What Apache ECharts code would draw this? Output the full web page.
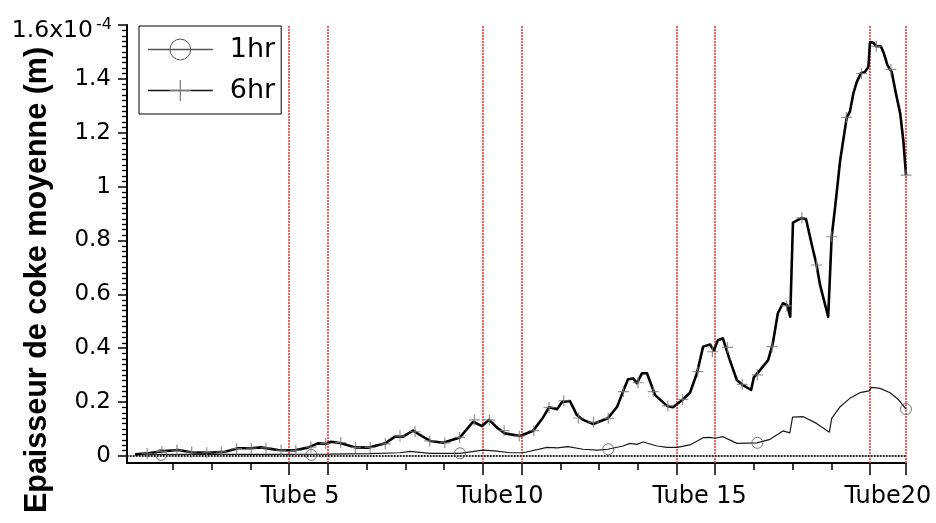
<!DOCTYPE html>
<html>
<head>
<meta charset="utf-8">
<script src="https://cdn.jsdelivr.net/npm/echarts@6/dist/echarts.min.js"></script>
<style>
  html, body { margin: 0; padding: 0; background: #fff; }
  #chart { width: 936px; height: 523px; }
</style>
</head>
<body>
<div id="chart"></div>
<script>
// Average coke thickness along the coil, in units of 1e-4 m.
// x runs along the tubes (one unit per minor tick).

// 1 hour run: thin curve
const hr1Curve = [
  [0.02,0.005],[1.70,0.006],[3.25,0.006],[5.05,0.007],[6.08,0.009],[6.86,0.012],[7.12,0.017],
  [7.64,0.010],[8.41,0.010],[9.00,0.022],[9.31,0.019],[9.70,0.012],[10.04,0.012],[10.66,0.032],
  [10.92,0.030],[11.20,0.035],[11.59,0.025],[11.95,0.022],[12.23,0.025],[12.62,0.037],[12.80,0.047],
  [12.98,0.043],[13.14,0.052],[13.50,0.037],[13.76,0.032],[14.02,0.032],[14.35,0.041],[14.69,0.068],
  [14.87,0.069],[15.00,0.066],[15.20,0.072],[15.56,0.047],[16.08,0.049],[16.42,0.062],[16.75,0.093],
  [16.93,0.086],[17.00,0.144],[17.28,0.146],[17.62,0.121],[17.95,0.088],[18.01,0.140],[18.23,0.183],
  [18.48,0.214],[18.74,0.235],[18.98,0.242],[19.04,0.255],[19.26,0.251],[19.52,0.235],[19.73,0.210],
  [19.93,0.174]
];
const hr1Marks = [[0.69,0.004],[4.57,0.004],[8.41,0.010],[12.24,0.025],[16.09,0.049],[19.93,0.174]];

// 6 hour run: thick curve
const hr6Curve = [
  [0.02,0.006],[0.35,0.010],[0.69,0.017],[1.13,0.022],[1.47,0.014],[1.90,0.012],[2.34,0.016],
  [2.68,0.029],[3.01,0.029],[3.27,0.032],[3.71,0.022],[4.15,0.021],[4.48,0.031],[4.74,0.047],
  [4.95,0.045],[5.08,0.053],[5.34,0.047],[5.70,0.032],[6.04,0.031],[6.48,0.047],[6.73,0.072],
  [6.94,0.072],[7.20,0.094],[7.38,0.078],[7.64,0.056],[7.97,0.049],[8.41,0.069],[8.75,0.127],
  [8.98,0.111],[9.16,0.134],[9.37,0.105],[9.57,0.084],[9.96,0.074],[10.30,0.094],[10.56,0.144],
  [10.71,0.181],[10.92,0.174],[11.05,0.201],[11.25,0.204],[11.43,0.152],[11.59,0.134],[11.85,0.119],
  [12.23,0.140],[12.47,0.183],[12.62,0.239],[12.75,0.285],[12.88,0.288],[12.98,0.270],[13.11,0.307],
  [13.24,0.307],[13.45,0.226],[13.76,0.186],[13.91,0.181],[14.17,0.210],[14.35,0.235],[14.53,0.307],
  [14.69,0.406],[14.87,0.414],[14.97,0.391],[15.07,0.430],[15.20,0.437],[15.38,0.356],[15.56,0.282],
  [15.72,0.263],[15.93,0.245],[16.00,0.292],[16.16,0.319],[16.37,0.356],[16.49,0.418],[16.62,0.530],
  [16.75,0.567],[16.86,0.560],[16.94,0.517],[17.01,0.866],[17.24,0.884],[17.35,0.878],[17.49,0.789],
  [17.62,0.709],[17.71,0.635],[17.92,0.517],[18.01,0.814],[18.10,0.925],[18.23,1.098],[18.31,1.173],
  [18.40,1.257],[18.48,1.278],[18.57,1.346],[18.66,1.389],[18.76,1.420],[18.87,1.426],[18.96,1.445],
  [19.00,1.537],[19.09,1.534],[19.16,1.521],[19.28,1.521],[19.36,1.494],[19.45,1.451],[19.56,1.426],
  [19.67,1.346],[19.78,1.272],[19.86,1.173],[19.93,1.043]
];
const hr6MarkX = [
  0.33,0.71,1.10,1.48,1.87,2.25,2.64,3.02,3.40,3.79,4.17,4.56,4.94,5.33,5.71,6.09,6.48,6.86,
  7.25,7.63,8.02,8.40,8.78,9.17,9.55,9.94,10.32,10.71,11.09,11.47,11.86,12.24,12.63,13.01,13.40,
  13.78,14.16,14.55,14.93,15.32,15.70,16.09,16.47,16.85,17.24,17.62,18.01,18.39,18.78,19.16,19.54,19.93
];
const hr6MarkY = [
  0.009,0.017,0.022,0.015,0.012,0.015,0.027,0.029,0.030,0.022,0.021,0.033,0.046,0.050,0.032,0.032,
  0.045,0.074,0.090,0.056,0.049,0.069,0.134,0.134,0.094,0.074,0.094,0.180,0.205,0.141,0.126,0.140,
  0.239,0.272,0.239,0.186,0.210,0.313,0.387,0.403,0.266,0.301,0.406,0.557,0.884,0.709,0.814,1.257,
  1.420,1.521,1.435,1.043
];

// Tube boundaries (red markers) and tube labels
const tubeBounds = [4, 5, 9, 10, 14, 15, 19, 19.93];
const tubeLabelPos = [4.28, 9.45, 14.6, 19.46];
const tubeLabels = ['Tube 5', 'Tube10', 'Tube 15', 'Tube20'];
const minorX = [1, 2, 3, 6, 7, 8, 11, 12, 13, 16, 17, 18];

// y ticks; the top one carries the 10^-4 scale factor
const yTickValues = [0, 0.2, 0.4, 0.6, 0.8, 1, 1.2, 1.4, 1.6];
const yTickText = ['0', '0.2', '0.4', '0.6', '0.8', '1', '1.2', '1.4'];
const yTopValue = [1.6];
const yTopMantissa = '1.6x10';
const yTopExponent = '-4';
const yMinorValues = [];
for (let i = 1; i < 80; i++) { if (i % 10 !== 0) yMinorValues.push(+(i * 0.02).toFixed(2)); }

const X_MIN = -0.19, X_MAX = 19.93, Y_MIN = -0.026, Y_MAX = 1.6;
const FONT = 'DejaVu Sans';
const PLUS = 'path://M0,5L10,5M5,0L5,10';

const hr6Marks = hr6MarkX.map((x, i) => [x, hr6MarkY[i]]);

const chart = echarts.init(document.getElementById('chart'), null, { renderer: 'canvas' });

const baseX = {
  type: 'value', min: X_MIN, max: X_MAX, position: 'bottom',
  splitLine: { show: false }
};
const baseY = {
  type: 'value', min: Y_MIN, max: Y_MAX, position: 'left',
  splitLine: { show: false }
};
const bareY = Object.assign({}, baseY, {
  axisLine: { show: false, onZero: false },
  axisTick: { show: false }
});

chart.setOption({
  animation: false,
  backgroundColor: '#fff',
  grid: { left: 127, right: 30, top: 25, bottom: 60 },
  legend: {
    left: 139, top: 26, orient: 'vertical',
    padding: [10, 6, 10, 8],
    itemGap: 14, itemWidth: 65, itemHeight: 26,
    borderColor: '#000', borderWidth: 1,
    selectedMode: false,
    textStyle: { fontFamily: FONT, fontSize: 27, color: '#000', padding: [0, 0, 0, 12] },
    data: [
      { name: '1hr', lineStyle: { color: '#555', width: 1.3 },
        itemStyle: { color: 'transparent', borderColor: '#555', borderWidth: 1 } },
      { name: '6hr', lineStyle: { color: '#111', width: 1.6 },
        itemStyle: { color: 'transparent', borderColor: '#777', borderWidth: 1.2 } }
    ]
  },
  graphic: [{
    type: 'text', x: 38, y: 280, rotation: Math.PI / 2,
    style: {
      text: 'Epaisseur de coke moyenne (m)',
      fontFamily: 'Liberation Sans', fontWeight: 'bold', fontSize: 30.5,
      fill: '#000', align: 'center', verticalAlign: 'middle'
    }
  }],
  xAxis: [
    Object.assign({}, baseX, {
      axisLine: { show: true, onZero: false, lineStyle: { color: '#000', width: 2 } },
      axisTick: { show: true, customValues: tubeBounds, length: 12, lineStyle: { color: '#000', width: 1.5 } },
      axisLabel: {
        show: true, customValues: tubeLabelPos,
        formatter: v => tubeLabels[tubeLabelPos.indexOf(v)],
        fontFamily: FONT, fontSize: 24, color: '#000', margin: 22, lineHeight: 24
      }
    }),
    Object.assign({}, baseX, {
      axisLine: { show: false, onZero: false },
      axisTick: { show: true, customValues: minorX, length: 7, lineStyle: { color: '#000', width: 1.5 } },
      axisLabel: { show: false }
    })
  ],
  yAxis: [
    Object.assign({}, baseY, {
      axisLine: { show: true, onZero: false, lineStyle: { color: '#000', width: 2 } },
      axisTick: { show: true, customValues: yTickValues, length: 9, lineStyle: { color: '#000', width: 1.5 } },
      axisLabel: {
        show: true, customValues: yTickValues.slice(0, 8),
        formatter: v => yTickText[yTickValues.indexOf(v)],
        fontFamily: FONT, fontSize: 23, color: '#000', margin: 16
      }
    }),
    Object.assign({}, baseY, {
      axisLine: { show: false, onZero: false },
      axisTick: { show: true, customValues: yMinorValues, length: 5, lineStyle: { color: '#000', width: 1.3 } },
      axisLabel: { show: false }
    }),
    Object.assign({}, bareY, {
      axisLabel: {
        show: true, customValues: yTopValue, formatter: () => yTopMantissa,
        fontFamily: FONT, fontSize: 23.5, color: '#000', margin: 34,
        verticalAlign: 'top', lineHeight: 11
      }
    }),
    Object.assign({}, bareY, {
      axisLabel: {
        show: true, customValues: yTopValue, formatter: () => yTopExponent,
        fontFamily: FONT, fontSize: 16, color: '#000', margin: 15, padding: [0, 0, 11, 0]
      }
    })
  ],
  series: [
    {
      name: '1hr', type: 'line', data: hr1Curve, xAxisIndex: 0, yAxisIndex: 0,
      showSymbol: false, symbol: 'circle', z: 3,
      lineStyle: { color: '#1a1a1a', width: 1.2 },
      itemStyle: { color: 'transparent', borderColor: '#555', borderWidth: 1 },
      markLine: {
        silent: true, symbol: 'none', z: 1, animation: false,
        label: { show: false },
        data: tubeBounds.map(v => ({ xAxis: v, lineStyle: { color: '#ff4040', type: [2, 1], width: 2, opacity: 0.85 } }))
          .concat([
            { yAxis: 0, lineStyle: { color: '#a0a0a0', type: 'solid', width: 1.5 } },
            { yAxis: 0, lineStyle: { color: '#000', type: [1.5, 1.5], width: 1.5 } }
          ])
      }
    },
    {
      name: '6hr', type: 'line', data: hr6Curve, xAxisIndex: 0, yAxisIndex: 0,
      showSymbol: false, symbol: PLUS, z: 4,
      lineStyle: { color: '#000', width: 2.6, join: 'round' },
      itemStyle: { color: 'transparent', borderColor: '#777', borderWidth: 1.2 }
    },
    {
      name: '1hr', type: 'scatter', data: hr1Marks, xAxisIndex: 0, yAxisIndex: 0,
      symbol: 'circle', symbolSize: 11, z: 5,
      itemStyle: { color: 'transparent', borderColor: '#555', borderWidth: 1 }
    },
    {
      name: '6hr', type: 'scatter', data: hr6Marks, xAxisIndex: 0, yAxisIndex: 0,
      symbol: PLUS, symbolSize: 11, z: 5,
      itemStyle: { color: 'transparent', borderColor: '#777', borderWidth: 1.2 }
    }
  ]
});
</script>
</body>
</html>
